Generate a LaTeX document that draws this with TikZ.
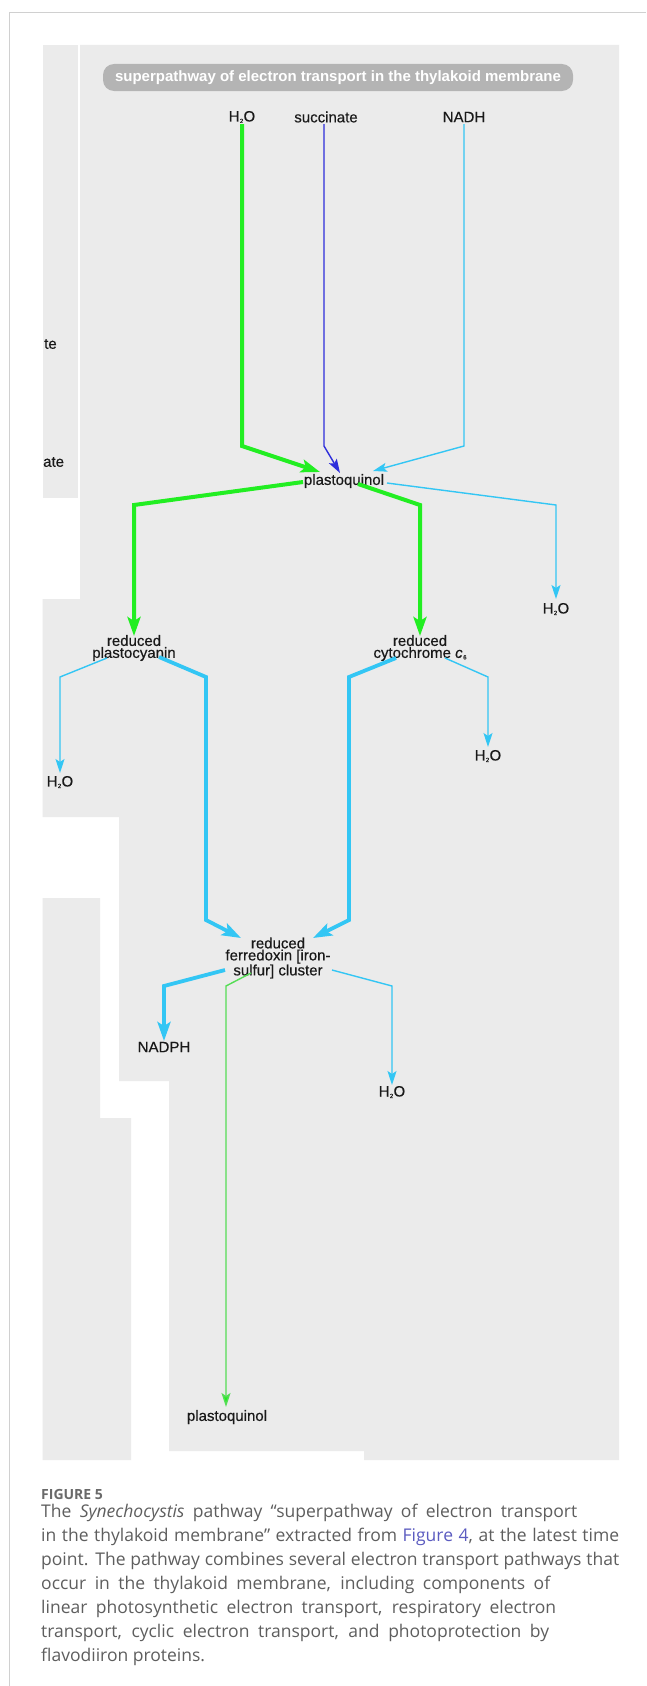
\documentclass[tikz,border=0pt]{standalone}
\usepackage{fontspec}
\setmainfont{Liberation Sans}
\newfontfamily\lblfont[FakeBold=0.4]{Liberation Sans}
\newfontfamily\capfont{Open Sans}
\usetikzlibrary{arrows.meta,calc}
\definecolor{panel}{HTML}{EBEBEB}
\definecolor{pillgrey}{HTML}{B4B4B4}
\definecolor{framegrey}{HTML}{D0D0D0}
\definecolor{lgreen}{HTML}{22EE22}
\definecolor{tgreen}{HTML}{55DD55}
\definecolor{dblue}{HTML}{2E2EDB}
\definecolor{sky}{HTML}{33C6F4}
\definecolor{captxt}{HTML}{5E5E5E}
\definecolor{caplink}{HTML}{5B5BC0}
\definecolor{capfig}{HTML}{6A6A6A}
\newcommand{\wat}{H\kern0.3pt\raisebox{-1.5pt}{\fontsize{6}{6}\selectfont 2}\kern0.3pt O}
\begin{document}
\begin{tikzpicture}[x=1pt,y=-1pt,
  lbl/.style={font=\lblfont\fontsize{15}{12}\selectfont, text=black!90, inner sep=0pt, align=center},
  titlepill/.style={fill=pillgrey, rounded corners=11pt, minimum width=470pt, minimum height=27pt, inner sep=0pt,
     text=white, font=\fontsize{15}{15}\selectfont\bfseries},
  thickg/.style={draw=lgreen, line width=4pt, -{Stealth[length=19pt,width=13pt,inset=4pt]}},
  thickb/.style={draw=sky, line width=3.8pt, -{Stealth[length=19pt,width=13pt,inset=4pt]}},
  thinb/.style={draw=sky, line width=1.4pt, -{Stealth[length=14pt,width=9pt,inset=3pt]}},
  thind/.style={draw=dblue, line width=1.4pt, -{Stealth[length=14pt,width=9pt,inset=3pt]}},
  thing/.style={draw=tgreen, line width=1.4pt, -{Stealth[length=14pt,width=9pt,inset=3pt,fill=lgreen]}},
  capline/.style={anchor=base west, inner sep=0pt, text=captxt, font=\capfont\fontsize{17.5}{24}\selectfont}
]
\useasboundingbox (0,0) rectangle (646,1686);
\fill[white] (0,0) rectangle (646,1686);
\draw[framegrey, line width=1pt] (9,1686) -- (9,13) -- (646,13);
% background panels
\fill[panel] (42.7,45) rectangle (78,498);
\fill[panel] (80,45) -- (619,45) -- (619,1460) -- (364,1460) -- (364,1451) -- (169,1451) -- (169,1081)
   -- (119,1081) -- (119,817) -- (42.7,817) -- (42.7,599) -- (80,599) -- cycle;
\fill[panel] (42.7,898) -- (100,898) -- (100,1118) -- (131,1118) -- (131,1460) -- (42.7,1460) -- cycle;
% clipped labels at the left
\node[lbl, anchor=west] (te1) at (44,344) {te};
\node[lbl, anchor=west] (te2) at (43,462) {ate};
% title
\node[titlepill] (title) at (338,77.5) {superpathway of electron transport in the thylakoid membrane};
% nodes
\node[lbl] (h2oA) at (242,117) {\wat};
\node[lbl] (succ) at (326,117) {succinate};
\node[lbl] (nadh) at (464,117) {NADH};
\node[lbl] (pq) at (344,481) {plastoquinol};
\node[lbl] (h2oB) at (556,609) {\wat};
\node[lbl] (pc) at (134,648) {reduced\\plastocyanin};
\node[lbl] (cyt) at (420,648) {reduced\\cytochrome \textit{c}\kern0.5pt\raisebox{-1.5pt}{\fontsize{6}{6}\selectfont 6}};
\node[lbl] (h2oC) at (60,782) {\wat};
\node[lbl] (h2oD) at (488,756) {\wat};
\node[lbl, font=\lblfont\fontsize{15}{10.5}\selectfont] (fd) at (278,958) {reduced\\ferredoxin [iron-\\sulfur] cluster};
\node[lbl] (nadph) at (164,1047) {NADPH};
\node[lbl] (h2oE) at (392,1092) {\wat};
\node[lbl] (pq2) at (227,1417) {plastoquinol};
% connectors into plastoquinol
\draw[thickg] ($(h2oA)+(0,7)$) -- ($(h2oA)+(0,329)$) -- ($(pq)+(-24,-9)$);
\draw[thind] ($(succ)+(-2,7)$) -- ($(succ)+(-2,329)$) -- ($(pq)+(-4,-8)$);
\draw[thinb] ($(nadh)+(0,7)$) -- ($(nadh)+(0,329)$) -- ($(pq)+(29,-10)$);
% out of plastoquinol
\draw[thickg] ($(pq)+(-41,1)$) -- ($(pc)+(0,-143)$) -- ($(pc)+(0,-12)$);
\draw[thickg] ($(pq)+(14,3)$) -- ($(cyt)+(0,-143)$) -- ($(cyt)+(0,-12)$);
\draw[thinb] ($(pq)+(43,2)$) -- ($(h2oB)+(0,-104)$) -- ($(h2oB)+(0,-10)$);
% out of plastocyanin / cytochrome
\draw[thinb] ($(pc)+(-27,10)$) -- ($(h2oC)+(0,-105)$) -- ($(h2oC)+(0,-9)$);
\draw[thickb] ($(pc)+(25,9)$) -- ($(pc)+(72,29)$) -- ($(pc)+(72,272)$) -- ($(fd)+(-37,-20)$);
\draw[thickb] ($(cyt)+(-24,10)$) -- ($(cyt)+(-71,29)$) -- ($(cyt)+(-71,272)$) -- ($(fd)+(35,-20)$);
\draw[thinb] ($(cyt)+(25,10)$) -- ($(h2oD)+(0,-79)$) -- ($(h2oD)+(0,-9)$);
% out of ferredoxin
\draw[thickb] ($(fd)+(-53,12)$) -- ($(nadph)+(0,-61)$) -- ($(nadph)+(0,-6)$);
\draw[thinb] ($(fd)+(54,12)$) -- ($(h2oE)+(0,-106)$) -- ($(h2oE)+(0,-7)$);
\draw[thing] ($(fd)+(-27,15)$) -- ($(pq2)+(-1,-431)$) -- ($(pq2)+(-1,-10)$);
% caption
\node[anchor=base west, inner sep=0pt, text=capfig, font=\capfont\fontsize{14}{14}\selectfont\bfseries] (cap0) at (41,1499) {FIGURE 5};
\node[capline] (cap1) at (41,1517.5) {\makebox[536pt][s]{The \textit{Synechocystis} pathway “superpathway of electron transport}};
\node[capline] (cap2) at (41,1541.5) {\makebox[578pt][s]{in the thylakoid membrane” extracted from {\color{caplink}Figure 4}, at the latest time}};
\node[capline] (cap3) at (41,1565.5) {\makebox[578pt][s]{point. The pathway combines several electron transport pathways that}};
\node[capline] (cap4) at (41,1589.5) {\makebox[509pt][s]{occur in the thylakoid membrane, including components of}};
\node[capline] (cap5) at (41,1613.5) {\makebox[515pt][s]{linear photosynthetic electron transport, respiratory electron}};
\node[capline] (cap6) at (41,1637.5) {\makebox[508pt][s]{transport, cyclic electron transport, and photoprotection by}};
\node[capline] (cap7) at (41,1661.5) {flavodiiron proteins.};
\end{tikzpicture}
\end{document}
